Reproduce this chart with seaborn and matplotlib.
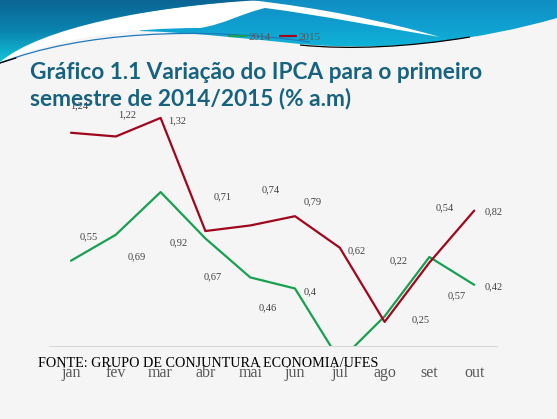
import numpy as np
import pandas as pd
import matplotlib
matplotlib.use('Agg')
import matplotlib.pyplot as plt
from matplotlib.path import Path
from matplotlib.patches import PathPatch
from matplotlib.colors import LinearSegmentedColormap
import seaborn as sns

# Dados (IPCA, % a.m.)
meses = ['jan', 'fev', 'mar', 'abr', 'mai', 'jun', 'jul', 'ago', 'set', 'out']
ipca_2014 = [0.55, 0.69, 0.92, 0.67, 0.46, 0.40, 0.01, 0.25, 0.57, 0.42]
ipca_2015 = [1.24, 1.22, 1.32, 0.71, 0.74, 0.79, 0.62, 0.22, 0.54, 0.82]

# deslocamento dos rótulos (pixels, x e y para cima)
off_2014 = [(18, 24), (21, -22), (18, -51), (7, -38), (18, -30),
            (15, -3), (0, 0), (36, -3), (27, -39), (19, -2)]
off_2015 = [(8, 27), (11, 22), (17, -3), (17, 34), (20, 36),
            (18, 14), (17, -3), (14, 61), (15, 55), (19, -1)]

df = pd.DataFrame({
    'mes': meses * 2,
    'valor': ipca_2014 + ipca_2015,
    'ano': ['2014'] * len(meses) + ['2015'] * len(meses),
})
df['pos'] = list(range(len(meses))) * 2

sns.set_theme(style='white')
plt.rcParams['font.family'] = ['Liberation Serif', 'DejaVu Sans']

W, H = 557, 419
fig = plt.figure(figsize=(W / 100, H / 100), dpi=100)
fig.patch.set_facecolor('#f5f5f5')

# cabeçalho (ondas azuis)
bg = fig.add_axes([0, 0, 1, 1], zorder=0)
bg.set_xlim(0, W)
bg.set_ylim(H, 0)
bg.axis('off')
bg.set_facecolor('none')


def shape(verts, codes, cmap, top=0, bottom=70, z=1):
    patch = PathPatch(Path(verts, codes), facecolor='none', edgecolor='none')
    bg.add_patch(patch)
    grad = np.linspace(0, 1, 100).reshape(-1, 1)
    im = bg.imshow(grad, cmap=cmap, extent=[0, W, bottom, top], aspect='auto', zorder=z)
    im.set_clip_path(patch)


M, L, C, Z = Path.MOVETO, Path.LINETO, Path.CURVE4, Path.CLOSEPOLY

cmap_r = LinearSegmentedColormap.from_list('r', ['#118ec4', '#0f9fd0', '#10b6d8'])
shape([(140, 0), (557, 0), (557, 18), (480, 40), (390, 52), (300, 44),
       (250, 39), (200, 33), (140, 31), (140, 0)],
      [M, L, L, C, C, C, C, C, C, Z], cmap_r, 0, 50, 1)

white = PathPatch(Path(
    [(0, 62), (60, 22), (150, 8), (250, 0), (320, 8), (380, 20), (440, 37),
     (380, 27), (320, 15), (265, 8), (240, 14), (225, 24), (200, 28),
     (130, 28), (60, 37), (0, 62)],
    [M, C, C, C, C, C, C, C, C, C, C, C, C, C, C, C]),
    facecolor='white', edgecolor='none', zorder=2)
bg.add_patch(white)

cmap_l = LinearSegmentedColormap.from_list('l', ['#0b6595', '#0a84b0', '#12c4d6'])
shape([(0, 0), (262, 0), (150, 6), (40, 28), (0, 62), (0, 0)],
      [M, L, C, C, C, Z], cmap_l, 0, 62, 3)

thin = Path([(0, 63), (80, 32), (200, 26), (310, 42)], [M, C, C, C])
bg.add_patch(PathPatch(thin, facecolor='none', edgecolor='#1f78bb', lw=0.9, zorder=4))
edge = Path([(300, 45), (350, 50), (410, 47), (470, 37)], [M, C, C, C])
bg.add_patch(PathPatch(edge, facecolor='none', edgecolor='black', lw=0.9, zorder=4))
bg.plot([0, 16], [63, 58], color='black', lw=0.9, zorder=4)

# gráfico
ax = fig.add_axes([48.6 / W, 73 / H, 448 / W, 280 / H], zorder=2)
ax.set_facecolor('none')
cores = {'2014': '#17a050', '2015': '#a0061c'}
sns.lineplot(data=df, x='pos', y='valor', hue='ano', palette=cores,
             linewidth=1.6, ax=ax)
ax.set_xlim(-0.5, len(meses) - 0.5)
ax.set_ylim(0.09, 1.6)
ax.set_xticks(range(len(meses)))
ax.set_xticklabels(meses, fontsize=11.5, color='#595959')
ax.set_yticks([])
ax.set_xlabel('')
ax.set_ylabel('')
ax.tick_params(axis='x', length=0, pad=14)
for s in ['top', 'left', 'right']:
    ax.spines[s].set_visible(False)
ax.spines['bottom'].set_color('#d9d9d9')
ax.spines['bottom'].set_linewidth(0.8)

for valores, offs in [(ipca_2014, off_2014), (ipca_2015, off_2015)]:
    for i, (v, (dx, dy)) in enumerate(zip(valores, offs)):
        ax.annotate(f'{v:g}'.replace('.', ','), (i, v),
                    xytext=(dx * 0.72, dy * 0.72), textcoords='offset points',
                    ha='center', va='center', fontsize=7.5, color='#404040')

leg = ax.legend(loc='center', bbox_to_anchor=(275 / W, 1 - 37 / H),
                bbox_transform=fig.transFigure, ncol=2, frameon=False,
                fontsize=8, handlelength=1.5, handletextpad=0.2,
                columnspacing=0.8)
for t in leg.get_texts():
    t.set_color('#595959')

# título e fonte
titulo = dict(fontsize=16.3, fontweight='bold', color='#17637f',
              family=['Lato', 'DejaVu Sans'], zorder=5)
fig.text(30 / W, 1 - 79 / H, 'Gráfico 1.1 Variação do IPCA para o primeiro', va='baseline', **titulo)
fig.text(30 / W, 1 - 105 / H, 'semestre de 2014/2015 (% a.m)', va='baseline', **titulo)
fig.text(38 / W, 1 - 363 / H, 'FONTE: GRUPO DE CONJUNTURA ECONOMIA/UFES',
         va='center', fontsize=10.2, color='black')

fig.savefig('out.png', dpi=100, facecolor=fig.get_facecolor())
